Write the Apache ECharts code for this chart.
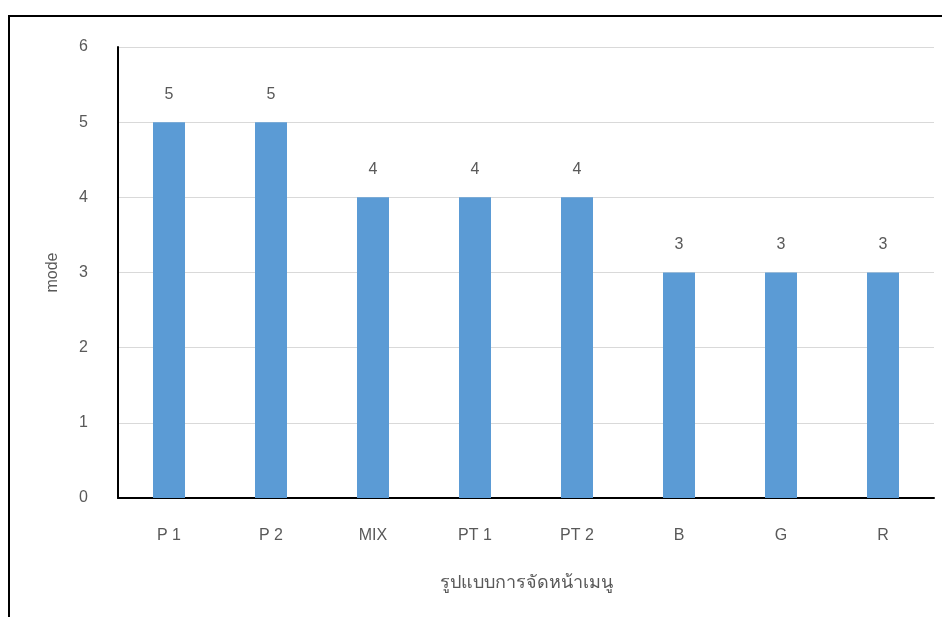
<!DOCTYPE html>
<html>
<head>
<meta charset="utf-8">
<script src="https://cdn.jsdelivr.net/npm/echarts@6/dist/echarts.min.js"></script>
<style>
  html, body { margin: 0; padding: 0; background: #fff; }
  #chart { width: 942px; height: 617px; }
</style>
</head>
<body>
<div id="chart"></div>
<script>
const categories = ['P 1', 'P 2', 'MIX', 'PT 1', 'PT 2', 'B', 'G', 'R'];
const modeValues = [5, 5, 4, 4, 4, 3, 3, 3];
const yTicks = [0, 1, 2, 3, 4, 5, 6];

const textColor = '#595959';
const fontFamily = '"Liberation Sans", "DejaVu Sans", "Noto Sans", sans-serif';

const chart = echarts.init(document.getElementById('chart'), null, { renderer: 'canvas' });
chart.setOption({
  animation: false,
  backgroundColor: '#fff',
  textStyle: { fontFamily: fontFamily },
  graphic: [{
    type: 'rect',
    shape: { x: 9, y: 16, width: 1000, height: 700 },
    style: { fill: 'none', stroke: '#000', lineWidth: 2 },
    silent: true
  }],
  grid: { left: 118, right: 8, top: 47, bottom: 119 },
  xAxis: {
    type: 'category',
    data: categories,
    name: 'รูปแบบการจัดหน้าเมนู',
    nameLocation: 'middle',
    nameGap: 76,
    nameTextStyle: { color: textColor, fontSize: 18, fontFamily: fontFamily },
    axisLine: { lineStyle: { color: '#000', width: 2 } },
    axisTick: { show: false },
    axisLabel: { color: textColor, fontSize: 16, margin: 30, fontFamily: fontFamily }
  },
  yAxis: {
    type: 'value',
    min: yTicks[0],
    max: yTicks[yTicks.length - 1],
    interval: 1,
    name: 'mode',
    nameLocation: 'middle',
    nameGap: 57,
    nameRotate: 90,
    nameTextStyle: { color: textColor, fontSize: 16, fontFamily: fontFamily },
    axisLine: { show: true, lineStyle: { color: '#000', width: 2 } },
    axisTick: { show: false },
    axisLabel: { color: textColor, fontSize: 16, margin: 30, fontFamily: fontFamily },
    splitLine: { lineStyle: { color: '#d9d9d9', width: 1 } }
  },
  series: [{
    type: 'bar',
    data: modeValues,
    barWidth: 32,
    itemStyle: { color: '#5b9bd5' },
    label: {
      show: true,
      position: 'top',
      distance: 20,
      color: textColor,
      fontSize: 16,
      fontFamily: fontFamily
    }
  }]
});
</script>
</body>
</html>
